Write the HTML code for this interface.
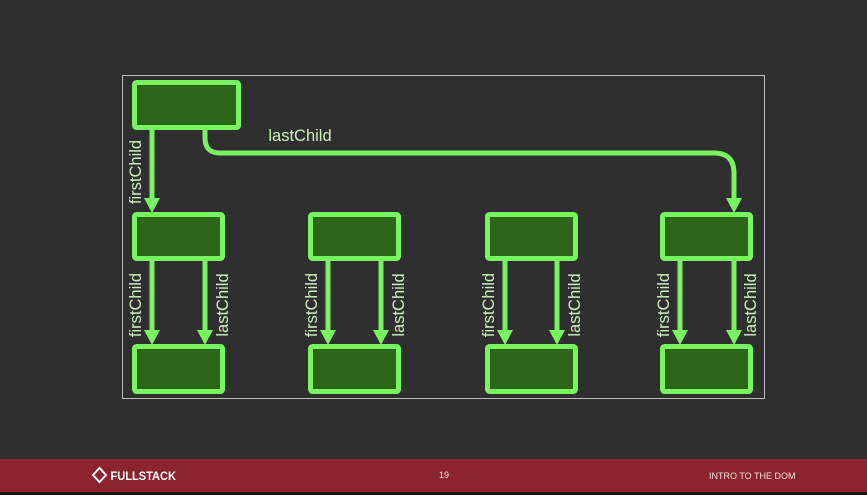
<!DOCTYPE html>
<html><head><meta charset="utf-8"><style>
html,body{margin:0;padding:0;background:#2f2f2f;width:867px;height:495px;overflow:hidden;font-family:"Liberation Sans",sans-serif}
.foot{position:absolute;left:0;top:459px;width:867px;height:33px;background:#8b242e;color:#f2dede}
.bot{position:absolute;left:0;top:492px;width:867px;height:3px;background:#111}
</style></head><body>
<svg width="867" height="495" style="position:absolute;left:0;top:0" xmlns="http://www.w3.org/2000/svg">
<rect x="122.5" y="75.5" width="642" height="323" fill="none" stroke="#bdbdbd" stroke-width="1"/>
<g fill="#2e6619" stroke="#77f45f" stroke-width="5">
<rect x="134.5" y="82.5" width="104" height="45" rx="2"/>
<rect x="134.5" y="214.5" width="88" height="44" rx="2"/>
<rect x="310.5" y="214.5" width="88" height="44" rx="2"/>
<rect x="487.5" y="214.5" width="88" height="44" rx="2"/>
<rect x="662.5" y="214.5" width="88" height="44" rx="2"/>
<rect x="134.5" y="346.5" width="88" height="45" rx="2"/>
<rect x="310.5" y="346.5" width="88" height="45" rx="2"/>
<rect x="487.5" y="346.5" width="88" height="45" rx="2"/>
<rect x="662.5" y="346.5" width="88" height="45" rx="2"/>
</g>
<g stroke="#77f45f" stroke-width="5" fill="none">
<path d="M152,129 V198"/>
<path d="M205,129 V138 Q205,153 220,153 H714 Q734,153 734,173 V198"/>
<path d="M152,261 V330"/><path d="M205,261 V330"/>
<path d="M328,261 V330"/><path d="M381,261 V330"/>
<path d="M505,261 V330"/><path d="M557,261 V330"/>
<path d="M680,261 V330"/><path d="M734,261 V330"/>
</g>
<g fill="#77f45f">
<path d="M144,198 L160,198 L152,213 Z"/>
<path d="M726,198 L742,198 L734,213 Z"/>
<path d="M144,330 L160,330 L152,345 Z"/><path d="M197,330 L213,330 L205,345 Z"/>
<path d="M320,330 L336,330 L328,345 Z"/><path d="M373,330 L389,330 L381,345 Z"/>
<path d="M497,330 L513,330 L505,345 Z"/><path d="M549,330 L565,330 L557,345 Z"/>
<path d="M672,330 L688,330 L680,345 Z"/><path d="M726,330 L742,330 L734,345 Z"/>
</g>
<g fill="#cdeec0" font-family="Liberation Sans, sans-serif" font-size="16.5" text-anchor="middle">
<text x="300" y="141">lastChild</text>
<text transform="translate(141,172) rotate(-90)">firstChild</text>
<text transform="translate(141,305) rotate(-90)">firstChild</text>
<text transform="translate(228,305) rotate(-90)">lastChild</text>
<text transform="translate(317,305) rotate(-90)">firstChild</text>
<text transform="translate(404,305) rotate(-90)">lastChild</text>
<text transform="translate(494,305) rotate(-90)">firstChild</text>
<text transform="translate(580,305) rotate(-90)">lastChild</text>
<text transform="translate(669,305) rotate(-90)">firstChild</text>
<text transform="translate(756,305) rotate(-90)">lastChild</text>
</g>
</svg>
<div class="foot">
<div style="position:absolute;left:94px;top:10px;font-weight:bold;font-size:12px;color:#fff;transform:scaleX(0.92);transform-origin:left">
<span style="display:inline-block;width:8px;height:8px;border:2px solid #fff;transform:rotate(45deg);margin-right:6px;vertical-align:-1px"></span>FULLSTACK</div>
<div style="position:absolute;left:439px;top:11px;font-size:9px">19</div>
<div style="position:absolute;left:709px;top:12px;font-size:9px">INTRO TO THE DOM</div>
</div>
<div class="bot"></div>
</body></html>
